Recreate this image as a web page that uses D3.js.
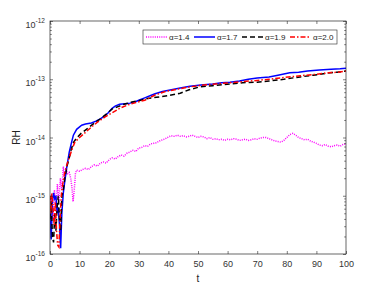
<!DOCTYPE html>
<html>
<head>
<meta charset="utf-8">
<script src="https://cdn.jsdelivr.net/npm/d3@7"></script>
<style>
  body { margin: 0; background: #fff; }
  svg { display: block; font-family: "Liberation Sans", Arial, sans-serif; }
</style>
</head>
<body>
<svg id="chart" width="382" height="286"></svg>
<script>
// RH values as log10 exponents
const tBlue = [0,0.4,0.8,1.2,1.6,2,2.4,2.8,3.2,3.6,4,4.5,5,5.7,6.5,7.2,7.9,9,10.7,12,14,15.5,17,18.5,19.6,21,22,23.5,25.3,27,28.7,30,32,34,35.5,38,41,44,47.3,51,55,58,60.8,64,67,70,74,77,81,84,87,91,95,98,100];
const eBlue = [-15.2,-15.75,-15.1,-14.95,-15.05,-15.0,-15.3,-15.2,-15.5,-15.9,-15.3,-14.95,-14.75,-14.5,-14.25,-14.1,-13.96,-13.86,-13.79,-13.77,-13.75,-13.72,-13.68,-13.63,-13.58,-13.5,-13.46,-13.43,-13.42,-13.41,-13.39,-13.36,-13.32,-13.28,-13.25,-13.21,-13.18,-13.15,-13.12,-13.1,-13.08,-13.06,-13.05,-13.03,-13.0,-12.98,-12.96,-12.93,-12.89,-12.88,-12.86,-12.84,-12.83,-12.82,-12.81];

const tRed = [0,0.3,0.6,1,1.4,1.8,2.2,2.6,3,3.4,3.8,4.3,5,5.8,6.8,7.6,8.4,10,11.8,14,16.2,18.5,20.9,23.5,26.4,29,32,35.5,39,43,47.3,52,56,60.8,65,70,74,79,84.5,89,94,97,100];
const eRed = [-15.0,-15.3,-14.95,-15.2,-15.5,-15.1,-15.6,-15.85,-15.88,-15.4,-15.0,-14.8,-14.6,-14.45,-14.3,-14.18,-14.08,-14.0,-13.92,-13.82,-13.73,-13.65,-13.58,-13.5,-13.44,-13.4,-13.36,-13.27,-13.21,-13.17,-13.13,-13.1,-13.08,-13.06,-13.04,-13.02,-13.0,-12.97,-12.94,-12.92,-12.89,-12.88,-12.86];

const tBlack = [0,0.4,0.8,1.2,1.6,2,2.4,2.8,3.2,3.6,4,4.5,5,5.7,6.5,7.2,8,9,10.5,12.8,15,17,19,21,23,25,27.7,30,33,36,40,44,47,50.7,55,60.8,65,70,74,79,84.5,89,94.6,97,100];
const eBlack = [-15.4,-15.1,-15.7,-15.8,-15.3,-15.6,-15.2,-15.0,-15.4,-15.6,-15.0,-14.9,-14.7,-14.5,-14.35,-14.2,-14.08,-14.01,-13.93,-13.84,-13.75,-13.68,-13.6,-13.51,-13.47,-13.43,-13.39,-13.37,-13.33,-13.31,-13.28,-13.24,-13.18,-13.13,-13.11,-13.08,-13.06,-13.05,-13.03,-13.0,-12.96,-12.93,-12.89,-12.88,-12.86];

const tPink = [0,0.5,1,1.5,2,2.5,3,3.5,4,4.5,5,5.5,6,6.5,7,7.4,7.8,8.2,8.6,9,
  10,11,12,13,14,15,16,17,18,19,20,21,22,23,24,25,26,27,28,29,30,31,32,33,34,35,36,37,38,39,
  40,41,42,43,44,45,46,47,48,49,50,51,52,53,54,55,56,57,58,59,60,61,62,63,64,65,66,67,68,69,
  70,71,72,73,74,75,76,77,78,79,80,81,82,83,84,85,86,87,88,89,90,91,92,93,94,95,96,97,98,99,100];
const ePink = [-15.3,-15.0,-15.4,-14.9,-15.2,-14.8,-15.1,-14.7,-14.9,-14.5,-14.7,-14.55,-14.62,-14.6,-14.7,-14.85,-15.1,-14.9,-14.62,-14.56,
  -14.58,-14.55,-14.53,-14.55,-14.5,-14.47,-14.49,-14.44,-14.42,-14.44,-14.38,-14.35,-14.37,-14.33,-14.3,-14.32,-14.27,-14.25,-14.22,-14.24,-14.18,-14.17,-14.14,-14.15,-14.11,-14.1,-14.09,-14.06,-14.04,-14.02,
  -13.99,-13.97,-13.98,-13.96,-13.98,-13.97,-13.99,-13.98,-13.96,-13.98,-14.0,-13.98,-13.99,-14.02,-14.0,-14.03,-14.02,-14.04,-14.03,-14.05,-14.03,-14.04,-14.02,-14.03,-14.05,-14.04,-14.03,-14.05,-14.04,-14.02,
  -14.03,-14.01,-14.0,-14.0,-14.02,-14.04,-14.06,-14.07,-14.08,-14.05,-14.0,-13.95,-13.93,-13.96,-14.0,-14.02,-14.04,-14.03,-14.06,-14.08,-14.1,-14.13,-14.14,-14.12,-14.15,-14.16,-14.14,-14.13,-14.15,-14.12,-14.11];

const seriesNames = ["\u03b1=1.4", "\u03b1=1.7", "\u03b1=1.9", "\u03b1=2.0"];
const xTicks = [0,10,20,30,40,50,60,70,80,90,100];
const yExponents = [-16,-15,-14,-13,-12];

const svg = d3.select("#chart");
const margin = { top: 21, right: 36, bottom: 32, left: 50 };
const W = 382, H = 286;
const axisColor = "#262626";

const x = d3.scaleLinear().domain([0, 100]).range([margin.left, W - margin.right]);
const y = d3.scaleLog().domain([1e-16, 1e-12]).range([H - margin.bottom, margin.top]);

const series = [
  { name: seriesNames[0], t: tPink, e: ePink, color: "#ff00ff", dash: "1,1.2", width: 1.5 },
  { name: seriesNames[1], t: tBlue, e: eBlue, color: "#0000ff", dash: null, width: 1.5 },
  { name: seriesNames[2], t: tBlack, e: eBlack, color: "#000000", dash: "5,3", width: 1.5 },
  { name: seriesNames[3], t: tRed, e: eRed, color: "#ff0000", dash: "5,2,1.5,2", width: 1.5 }
];

const line = d3.line().x(d => x(d[0])).y(d => y(Math.pow(10, d[1])));

// plot lines, clipped to the axes box
svg.append("clipPath").attr("id", "clip")
  .append("rect")
  .attr("x", x(0)).attr("y", y(1e-12))
  .attr("width", x(100) - x(0)).attr("height", y(1e-16) - y(1e-12));

const plot = svg.append("g").attr("clip-path", "url(#clip)");
series.forEach(s => {
  plot.append("path")
    .datum(s.t.map((t, i) => [t, s.e[i]]))
    .attr("fill", "none")
    .attr("stroke", s.color)
    .attr("stroke-width", s.width)
    .attr("stroke-dasharray", s.dash)
    .attr("d", line);
});

// y tick values: decades plus minor 2..9
const yVals = [];
yExponents.forEach(p => {
  yVals.push(Math.pow(10, p));
  if (p < -12) for (let k = 2; k <= 9; k++) yVals.push(k * Math.pow(10, p));
});
const isMajor = v => Math.abs(Math.log10(v) - Math.round(Math.log10(v))) < 1e-9;

function styleAxis(g) {
  g.select(".domain").remove();
  g.selectAll(".tick line").attr("stroke", axisColor).attr("stroke-width", 0.6);
  g.selectAll(".tick text").attr("fill", "#333").attr("font-size", 9);
}

// bottom axis
svg.append("g")
  .attr("transform", `translate(0,${y(1e-16)})`)
  .call(d3.axisBottom(x).tickValues(xTicks).tickSize(-3).tickPadding(7).tickFormat(d3.format("d")))
  .call(styleAxis);

// top axis, ticks only
svg.append("g")
  .attr("transform", `translate(0,${y(1e-12)})`)
  .call(d3.axisTop(x).tickValues(xTicks).tickSize(-3).tickFormat(""))
  .call(styleAxis);

// left axis
const yLeft = svg.append("g")
  .attr("transform", `translate(${x(0)},0)`)
  .call(d3.axisLeft(y).tickValues(yVals).tickSize(-3).tickPadding(5).tickFormat(""))
  .call(styleAxis);
yLeft.selectAll(".tick line").attr("x2", d => isMajor(d) ? 3 : 1.8);
yLeft.selectAll(".tick text").each(function(d) {
  if (!isMajor(d)) return;
  const t = d3.select(this).attr("dy", null).attr("y", 6.5);
  t.append("tspan").text("10");
  t.append("tspan").attr("dy", -5).attr("font-size", 6.5).text(String(Math.round(Math.log10(d))).replace("-", "-"));
});

// right axis, ticks only
const yRight = svg.append("g")
  .attr("transform", `translate(${x(100)},0)`)
  .call(d3.axisRight(y).tickValues(yVals).tickSize(-3).tickFormat(""))
  .call(styleAxis);
yRight.selectAll(".tick line").attr("x2", d => isMajor(d) ? -3 : -1.8);

// frame
svg.append("rect")
  .attr("x", x(0)).attr("y", y(1e-12))
  .attr("width", x(100) - x(0)).attr("height", y(1e-16) - y(1e-12))
  .attr("fill", "none").attr("stroke", axisColor).attr("stroke-width", 0.7);

// axis titles
svg.append("text")
  .attr("x", (x(0) + x(100)) / 2).attr("y", 282)
  .attr("text-anchor", "middle").attr("font-size", 10).attr("fill", "#222")
  .text("t");
svg.append("text")
  .attr("transform", `translate(20,${(y(1e-12) + y(1e-16)) / 2}) rotate(-90)`)
  .attr("text-anchor", "middle").attr("font-size", 10).attr("fill", "#222")
  .text("RH");

// legend
const legend = svg.append("g").attr("transform", "translate(143,30)");
legend.append("rect")
  .attr("width", 194).attr("height", 14)
  .attr("fill", "#fff").attr("stroke", axisColor).attr("stroke-width", 0.6);
series.forEach((s, i) => {
  const gx = 3 + i * 48;
  legend.append("line")
    .attr("x1", gx).attr("x2", gx + 21).attr("y1", 7).attr("y2", 7)
    .attr("stroke", s.color).attr("stroke-width", s.width)
    .attr("stroke-dasharray", s.dash);
  legend.append("text")
    .attr("x", gx + 23).attr("y", 10)
    .attr("font-size", 8).attr("fill", "#222")
    .text(s.name);
});
</script>
</body>
</html>
